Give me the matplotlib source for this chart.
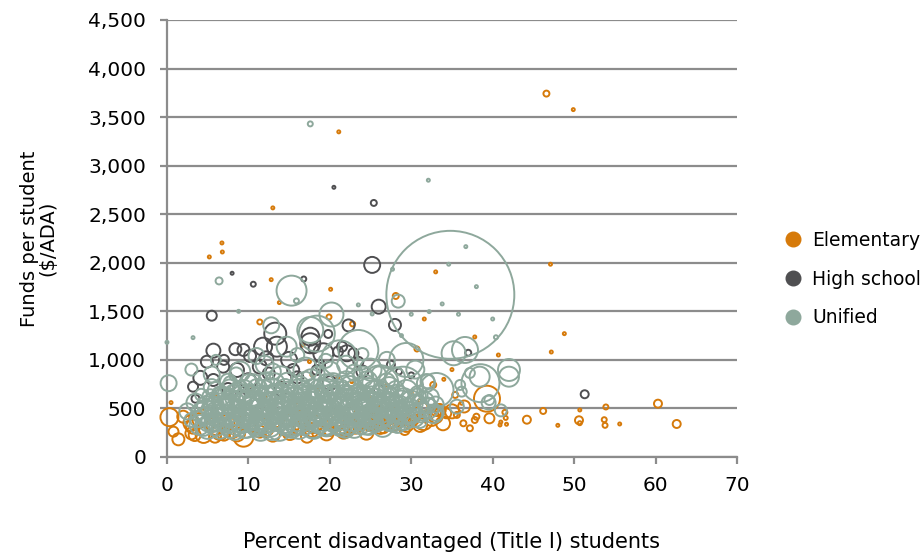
import matplotlib
matplotlib.use('Agg')
import matplotlib.pyplot as plt
from matplotlib.lines import Line2D
from matplotlib.ticker import FuncFormatter, MultipleLocator

plt.rcParams['font.family'] = ['DejaVu Sans']

# Elementary districts: percent Title I, funds per student ($/ADA), ADA (bubble size)
elem_x = [46.6, 49.9, 21.1, 13.0, 6.75, 6.8, 5.2, 47.1, 33.0, 12.8, 20.1, 13.8, 28.1, 48.8, 47.2,
          11.4, 19.9, 22.8, 31.6, 40.7, 30.7, 37.8, 39.3, 46.2, 44.2, 50.6, 50.7, 50.7, 48.0, 53.7,
          53.8, 53.9, 55.6, 60.3, 62.6, 41.6, 41.7, 41.5, 39.6, 37.2, 36.4, 38.0, 41.0, 40.9,
          0.3, 0.5, 0.8, 1.4, 3.0, 4.5, 5.9, 8.6, 11.4, 9.4, 17.2, 19.6, 21.7, 23.1, 14.7, 7.3,
          3.2, 2.0, 3.4, 6.5, 15.1, 17.8, 20.0, 21.2, 24.9, 26.2, 28.0, 29.2, 31.1, 32.5, 33.5,
          33.9, 33.1, 34.3, 29.4, 30.3, 27.8, 27.4, 25.8, 25.3, 23.7, 22.1, 26.6, 31.5, 32.7,
          35.4, 36.2, 35.6, 37.8, 25.8, 25.8, 17.8, 16.7, 17.5, 22.7,
          4.0, 6.0, 8.0, 10.0, 12.0, 13.5, 15.0, 16.5, 18.0, 19.5, 21.0, 22.5, 24.0, 26.0, 27.5,
          29.0, 30.5, 31.5, 33.0, 35.0, 36.5, 24.5, 13.0, 7.0, 3.0,
          10.5, 12.0, 14.0, 18.5, 21.0, 25.0, 27.0, 30.0, 16.0, 8.0, 6.0, 23.0, 28.0, 31.0, 20.0,
          13.0, 9.0, 4.5, 34.0, 35.0]
elem_y = [3742, 3577, 3348, 2565, 2204, 2111, 2060, 1985, 1906, 1826, 1727, 1590, 1658, 1270, 1081,
          1390, 1442, 1370, 1421, 1050, 1112, 1236, 600, 474, 384, 378, 348, 484, 326, 384,
          326, 515, 340, 549, 340, 402, 337, 460, 398, 296, 347, 415, 360, 330,
          410, 560, 261, 182, 243, 227, 209, 243, 261, 209, 209, 243, 261, 312, 296, 347,
          312, 415, 226, 257, 247, 278, 278, 330, 330, 299, 330, 278, 330, 402, 484,
          347, 484, 450, 330, 381, 312, 364, 450, 330, 330, 278, 296, 518, 742,
          639, 553, 433, 381, 433, 484, 845, 1154, 982, 776,
          380, 320, 300, 350, 300, 380, 330, 400, 340, 300, 390, 330, 420, 360, 410,
          360, 440, 370, 420, 470, 520, 250, 230, 230, 350,
          700, 620, 760, 690, 820, 600, 740, 660, 540, 560, 640, 520, 500, 580, 470,
          470, 430, 500, 800, 900]
elem_ada = [360, 90, 90, 90, 90, 90, 90, 90, 90, 90, 90, 90, 360, 90, 90,
            250, 250, 250, 90, 90, 250, 90, 6760, 360, 640, 640, 160, 90, 90, 250,
            250, 250, 90, 640, 640, 160, 90, 250, 1000, 360, 360, 360, 90, 90,
            3240, 90, 1000, 1440, 1440, 2560, 1440, 2560, 1440, 4000, 1440, 1960, 1960, 1960, 2560, 2560,
            1960, 1440, 1440, 2560, 1960, 1960, 1440, 4000, 1440, 1440, 1000, 1000, 1960, 2560, 1440,
            1960, 1440, 1000, 1960, 1000, 1000, 1440, 2560, 1000, 1000, 1960, 1000, 640, 360,
            360, 90, 360, 360, 1000, 640, 90, 90, 90, 90,
            1960, 3240, 4000, 2560, 3240, 1960, 4000, 2560, 3240, 2560, 4000, 2560, 3240, 2560, 1960,
            2560, 1960, 3240, 1960, 1960, 1440, 1960, 1960, 1440, 2560,
            90, 90, 90, 90, 90, 90, 90, 90, 90, 90, 90, 90, 90, 90, 90,
            90, 90, 90, 90, 90]

# High school districts
high_x = [20.5, 25.4, 8.0, 10.6, 16.8, 25.2, 26.0, 28.0, 22.3, 37.0, 5.5, 13.3, 13.5, 17.6, 19.8,
          5.7, 8.4, 9.4, 11.8, 21.5, 18.0, 4.1, 3.2, 17.6, 18.4, 22.1, 19.2, 8.6, 4.9, 6.9,
          5.7, 15.5, 11.4, 12.2, 21.0, 22.9, 18.8, 51.3,
          7.5, 10.0, 14.0, 16.0, 20.0, 24.0, 26.0, 9.0, 12.5, 27.5, 23.5, 3.5, 15.0, 10.2, 7.0,
          28.5, 30.0]
high_y = [2777, 2616, 1892, 1779, 1833, 1978, 1548, 1360, 1355, 1073, 1455, 1270, 1136, 1239, 1267,
          1095, 1110, 1102, 1136, 1136, 1119, 815, 724, 1171, 896, 1068, 1068, 896, 981, 930,
          793, 896, 930, 1016, 1085, 1068, 948, 646,
          700, 780, 700, 820, 760, 880, 700, 620, 860, 950, 980, 600, 1000, 1040, 1000,
          880, 840]
high_ada = [90, 360, 90, 250, 250, 2560, 1960, 1440, 1440, 360, 1000, 4840, 4000, 3240, 640,
            1960, 1440, 1440, 3240, 1000, 1000, 1960, 1000, 4000, 1000, 2560, 4000, 1960, 1440, 1440,
            1440, 1440, 1960, 1960, 1000, 1000, 1000, 640,
            1440, 2560, 1960, 1440, 1960, 1440, 1000, 1000, 1440, 640, 1000, 640, 2560, 1440, 1000,
            360, 360]

# Unified districts: outliers and the larger bubbles
uni_x = [17.6, 32.1, 36.7, 34.6, 38.0, 33.8, 27.7, 23.5, 6.4, 15.3, 15.9, 20.2, 28.4, 8.8, 3.2,
         0.0, 12.8, 18.4, 25.2, 30.0, 32.2, 35.8, 40.0, 28.8, 40.4, 34.8, 0.2,
         21.2, 23.5, 29.4, 35.2, 36.6, 38.4, 36.0, 36.2, 33.1, 29.0, 26.2, 24.1, 27.4, 22.5,
         14.7, 17.6, 42.0, 42.0, 35.6, 37.2, 39.5, 39.6, 41.0, 38.5,
         2.5, 3.0, 3.5, 4.0, 4.2, 4.8, 5.0, 5.5, 5.8, 6.2, 6.5, 6.8, 7.2, 7.5, 7.8, 8.0, 8.3, 8.6,
         8.9, 9.2, 9.5, 9.8, 10.0, 10.3, 10.6, 10.9, 11.2, 11.5, 11.8, 12.0, 12.3, 12.6, 12.9, 13.2,
         13.5, 13.8, 14.1, 14.4, 14.7, 15.0, 15.3, 15.6, 15.9, 16.2, 16.5, 16.8, 17.1, 17.4, 17.7,
         18.0, 18.3, 18.6, 18.9, 19.2, 19.5, 19.8, 20.1, 20.4, 20.7, 21.0, 21.3, 21.6, 21.9, 22.2,
         22.5, 22.8, 23.1, 23.4, 23.7, 24.0, 24.3, 24.6, 24.9, 25.2, 25.5, 25.8, 26.1, 26.4, 26.7,
         27.0, 27.3, 27.6, 27.9, 28.2, 28.5, 28.8, 29.1, 29.4, 29.7, 30.0, 30.3, 30.6, 30.9, 31.2,
         31.5, 31.8, 32.1, 32.4, 32.7, 33.0,
         3.0, 5.5, 9.0, 12.0, 14.0, 17.0, 20.0, 22.0, 25.0, 28.0, 30.5, 32.0, 11.0, 16.0, 6.0,
         27.0, 24.0, 19.5]
uni_y = [3430, 2850, 2166, 1985, 1754, 1576, 1933, 1566, 1813, 1713, 1607, 1467, 1605, 1500, 1229,
         1181, 1356, 1270, 1473, 1470, 1497, 1470, 1421, 1250, 1233, 1670, 760,
         1016, 1102, 999, 1068, 1102, 827, 742, 673, 690, 724, 759, 827, 484, 518,
         1136, 1308, 896, 827, 518, 865, 560, 587, 480, 760,
         470, 380, 560, 330, 640, 460, 300, 720, 520, 400, 280, 610, 480, 350, 760, 560, 290, 440,
         680, 380, 520, 300, 620, 450, 760, 350, 560, 280, 680, 420, 500, 330, 600, 760,
         450, 290, 540, 380, 650, 480, 310, 580, 420, 720, 520, 350, 620, 460, 800,
         300, 560, 400, 680, 480, 330, 600, 430, 760, 520, 360, 640, 460, 300, 560,
         720, 400, 500, 620, 350, 460, 580, 780, 420, 520, 660, 380, 480, 600, 440,
         540, 720, 400, 500, 620, 460, 560, 380, 680, 480, 580, 420, 520, 640, 460,
         560, 760, 500, 620, 440, 540,
         900, 850, 880, 950, 820, 900, 880, 950, 900, 820, 900, 780, 1040, 1050, 1000,
         1000, 1060, 990]
uni_ada = [250, 90, 90, 90, 90, 90, 90, 90, 490, 9000, 250, 5760, 1690, 90, 90,
           90, 2560, 12960, 90, 90, 90, 90, 90, 90, 160, 163840, 2560,
           12960, 16000, 11560, 5760, 6760, 4000, 1000, 1000, 11560, 16000, 12960, 4000, 11560, 11560,
           4000, 6760, 4840, 4000, 1960, 1000, 1960, 1000, 1440, 14440,
           2560, 1960, 3240, 4000, 1440, 5760, 4840, 2560, 4000, 6760, 3240, 4840, 7840, 4000, 1960, 5760, 4840, 9000,
           4000, 6760, 7840, 4000, 5760, 10240, 3240, 5760, 9000, 4840, 4840, 7840, 10240, 5760, 6760, 4000,
           9000, 5760, 7840, 6760, 5760, 10240, 4840, 6760, 9000, 4840, 7840, 5760, 6760, 10240, 4000,
           4840, 9000, 6760, 5760, 7840, 4840, 6760, 9000, 4000, 7840, 5760, 6760, 9000, 4000, 7840,
           4840, 6760, 9000, 5760, 4840, 7840, 6760, 4000, 5760, 9000, 5760, 4840, 6760, 7840, 4840,
           6760, 4000, 5760, 6760, 5760, 4840, 5760, 4000, 4840, 5760, 4000, 4840, 5760, 3240, 4000,
           4840, 3240, 4000, 2560, 3240, 2560,
           1440, 2560, 4000, 3240, 4840, 5760, 4000, 3240, 4840, 4000, 3240, 1960, 2560, 1960, 1000,
           2560, 1440, 1960]

# Unified districts: the crowded core (roughly 4-33 % Title I, $300-900)
core_x = [4.5, 6.0, 7.8, 9.5, 11.0, 12.8, 14.5, 16.2, 17.9, 19.6, 21.4, 23.0, 24.8, 26.5, 28.3,
          3.8, 5.6, 7.3, 9.0, 10.8, 12.5, 14.2, 15.9, 17.6, 19.3, 21.0, 22.7, 24.4, 26.1, 27.8, 29.5, 31.0,
          4.2, 6.0, 7.7, 9.4, 11.1, 12.8, 14.5, 16.2, 17.9, 19.6, 21.3, 23.0, 24.7, 26.4, 28.1, 29.8, 31.4, 33.0,
          4.8, 6.5, 8.2, 9.9, 11.6, 13.3, 15.0, 16.7, 18.4, 20.1, 21.8, 23.5, 25.2, 26.9, 28.6, 30.3, 32.0,
          5.3, 7.0, 8.7, 10.4, 12.1, 13.8, 15.5, 17.2, 18.9, 20.6, 22.3, 24.0, 25.7, 27.4, 29.1, 30.8,
          6.0, 7.7, 9.4, 11.1, 12.8, 14.5, 16.2, 17.9, 19.6, 21.3, 23.0, 24.7, 26.4, 28.1,
          7.5, 10.0, 12.2, 14.8, 17.0, 19.5, 22.0, 24.5, 27.0,
          8.5, 13.0, 18.5, 23.0, 26.0,
          5.0, 6.8, 8.5, 10.2, 11.9, 13.6, 15.3, 17.0, 18.7, 20.4, 22.1, 23.8, 25.5, 27.2,
          4.6, 6.3, 8.0, 9.7, 11.4, 13.1, 14.8, 16.5, 18.2, 19.9, 21.6, 23.3, 25.0, 26.7, 28.4, 30.1,
          5.2, 6.9, 8.6, 10.3, 12.0, 13.7, 15.4, 17.1, 18.8, 20.5, 22.2, 23.9, 25.6, 27.3, 29.0,
          5.6, 7.3, 9.0, 10.7, 12.4, 14.1, 15.8, 17.5, 19.2, 20.9, 22.6, 24.3, 26.0, 27.7,
          6.4, 8.1, 9.8, 11.5, 13.2, 14.9, 16.6, 18.3, 20.0, 21.7, 23.4, 25.1]
core_y = [310, 330, 300, 320, 300, 310, 330, 300, 320, 305, 325, 300, 320, 310, 330,
          390, 370, 395, 365, 385, 375, 395, 365, 390, 370, 395, 380, 365, 390, 375, 395, 380,
          455, 440, 465, 450, 435, 460, 445, 465, 440, 455, 470, 445, 460, 440, 465, 450, 470, 455,
          535, 520, 545, 525, 550, 530, 515, 540, 525, 550, 530, 545, 515, 540, 525, 550, 530,
          615, 600, 625, 605, 630, 610, 595, 620, 605, 630, 610, 625, 600, 620, 605, 625,
          690, 705, 680, 700, 685, 710, 690, 700, 680, 705, 690, 700, 680, 700,
          775, 760, 790, 765, 785, 770, 790, 760, 780,
          850, 880, 860, 870, 860,
          345, 355, 340, 350, 345, 360, 340, 355, 345, 350, 340, 355, 345, 350,
          420, 410, 425, 415, 420, 410, 425, 415, 420, 410, 425, 415, 420, 410, 425, 415,
          490, 500, 485, 495, 490, 500, 485, 495, 490, 500, 485, 495, 490, 500, 485,
          570, 560, 575, 565, 570, 560, 575, 565, 570, 560, 575, 565, 570, 560,
          650, 660, 645, 655, 650, 660, 645, 655, 650, 660, 645, 655]
core_ada = [3240, 4840, 4000, 5760, 3240, 6760, 4000, 4840, 5760, 3240, 4840, 4000, 3240, 4000, 2560,
            2560, 4840, 6760, 4000, 7840, 5760, 4840, 6760, 4000, 7840, 5760, 4840, 6760, 4000, 4840, 3240, 2560,
            4000, 5760, 7840, 4840, 9000, 6760, 5760, 7840, 4840, 6760, 9000, 5760, 4840, 6760, 4000, 4840, 3240, 2560,
            3240, 6760, 5760, 9000, 4840, 7840, 6760, 5760, 9000, 4840, 6760, 5760, 7840, 4840, 4000, 3240, 2560,
            2560, 4840, 6760, 5760, 4000, 7840, 5760, 4840, 6760, 4000, 5760, 4840, 4000, 3240, 4000, 2560,
            2560, 3240, 4840, 4000, 5760, 3240, 4840, 4000, 5760, 3240, 4000, 4840, 3240, 2560,
            2560, 3240, 2560, 4000, 3240, 2560, 3240, 2560, 2560,
            1960, 2560, 1960, 2560, 1960,
            2560, 3240, 4840, 2560, 4000, 3240, 5760, 2560, 4000, 3240, 4840, 2560, 3240, 2560,
            3240, 2560, 4000, 4840, 3240, 5760, 2560, 4000, 4840, 3240, 2560, 4000, 3240, 2560, 2560, 1960,
            2560, 4000, 3240, 5760, 2560, 4840, 4000, 3240, 5760, 2560, 4000, 3240, 2560, 3240, 1960,
            3240, 2560, 4840, 4000, 3240, 5760, 2560, 4840, 3240, 4000, 2560, 3240, 2560, 1960,
            1960, 2560, 3240, 2560, 4000, 2560, 3240, 2560, 3240, 2560, 1960, 1960]

colors = {'Elementary': '#D67A0A', 'High school': '#4F4F51', 'Unified': '#8EA89C'}
scale = 0.0518  # ADA -> marker area (pt^2)


def draw_series(ax, xs, ys, ada, color):
    # big bubbles first so the small ones stay visible
    pts = sorted(zip(xs, ys, ada), key=lambda p: -p[2])
    ax.scatter([p[0] for p in pts], [p[1] for p in pts], s=[p[2] * scale for p in pts],
               facecolors='none', edgecolors=color, linewidths=1.4, clip_on=False, zorder=3)


fig = plt.figure(figsize=(9.22, 5.55), dpi=100)
ax = fig.add_axes([0.1811, 0.1766, 0.6182, 0.7874])

draw_series(ax, elem_x, elem_y, elem_ada, colors['Elementary'])
draw_series(ax, high_x, high_y, high_ada, colors['High school'])
draw_series(ax, uni_x + core_x, uni_y + core_y, uni_ada + core_ada, colors['Unified'])

ax.set_xlim(0, 70)
ax.set_ylim(0, 4500)
ax.xaxis.set_major_locator(MultipleLocator(10))
ax.yaxis.set_major_locator(MultipleLocator(500))
ax.yaxis.set_major_formatter(FuncFormatter(lambda v, p: f'{int(v):,}'))
ax.grid(axis='y', color='#8C8C8C', linewidth=1.6, zorder=0)
ax.set_axisbelow(True)
for side in ['top', 'right']:
    ax.spines[side].set_visible(False)
for side in ['left', 'bottom']:
    ax.spines[side].set_color('#8C8C8C')
    ax.spines[side].set_linewidth(1.6)
ax.tick_params(axis='both', colors='#8C8C8C', width=1.6, length=5, labelsize=14.5,
               labelcolor='black')
ax.tick_params(axis='y', pad=10)
ax.tick_params(axis='x', pad=9)

ax.set_ylabel('Funds per student\n($/ADA)', fontsize=14, labelpad=22, linespacing=0.95)
ax.set_xlabel('Percent disadvantaged (Title I) students', fontsize=15, labelpad=26)

handles = [Line2D([], [], marker='o', linestyle='none', markersize=10.5,
                  markerfacecolor=c, markeredgecolor=c) for c in colors.values()]
fig.legend(handles, list(colors.keys()), loc='center left', bbox_to_anchor=(0.842, 0.497),
           frameon=False, fontsize=13.5, labelspacing=1.05, handlelength=1.0, handletextpad=0.5,
           borderaxespad=0)

fig.savefig('out.png', dpi=100)
